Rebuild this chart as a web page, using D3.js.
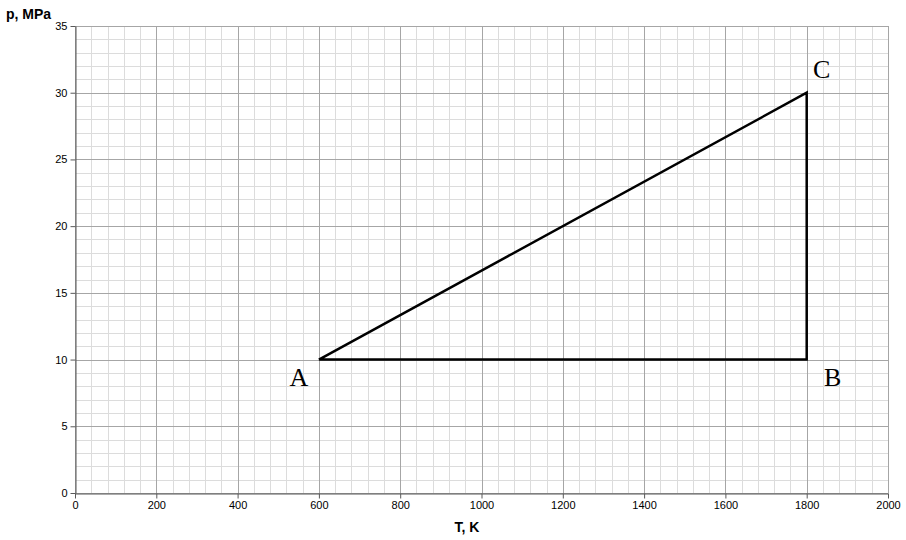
<!DOCTYPE html>
<html><head><meta charset="utf-8">
<script src="https://cdn.jsdelivr.net/npm/d3@7"></script>
<style>body{margin:0;background:#fff}svg{display:block}</style>
</head><body><svg id="c" width="906" height="540"></svg>
<script>
const pointNames = ["A", "B", "C"];
const temperatureK = [600, 1800, 1800];
const pressureMPa = [10, 10, 30];
const xTicks = [0, 200, 400, 600, 800, 1000, 1200, 1400, 1600, 1800, 2000];
const yTicks = [0, 5, 10, 15, 20, 25, 30, 35];

const svg = d3.select("#c");
const x = d3.scaleLinear().domain([0, 2000]).range([75, 888]);
const y = d3.scaleLinear().domain([0, 35]).range([493, 26]);

const g = svg.append("g");
// minor grid
g.selectAll(".vmin").data(d3.range(0, 2001, 40)).enter().append("line")
  .attr("x1", d => Math.round(x(d)) + 0.5).attr("x2", d => Math.round(x(d)) + 0.5)
  .attr("y1", y(0)).attr("y2", y(35)).attr("stroke", "#dcdcdc").attr("stroke-width", 1);
g.selectAll(".hmin").data(d3.range(0, 36, 1)).enter().append("line")
  .attr("y1", d => Math.round(y(d)) + 0.5).attr("y2", d => Math.round(y(d)) + 0.5)
  .attr("x1", x(0)).attr("x2", x(2000)).attr("stroke", "#dcdcdc").attr("stroke-width", 1);
// major grid
g.selectAll(".vmaj").data(xTicks).enter().append("line")
  .attr("x1", d => Math.round(x(d)) + 0.5).attr("x2", d => Math.round(x(d)) + 0.5)
  .attr("y1", y(0)).attr("y2", y(35)).attr("stroke", "#a6a6a6").attr("stroke-width", 1);
g.selectAll(".hmaj").data(yTicks).enter().append("line")
  .attr("y1", d => Math.round(y(d)) + 0.5).attr("y2", d => Math.round(y(d)) + 0.5)
  .attr("x1", x(0)).attr("x2", x(2000)).attr("stroke", "#a6a6a6").attr("stroke-width", 1);

// axes
const fmt = d3.format("d");
const xAxis = d3.axisBottom(x).tickValues(xTicks).tickFormat(fmt).tickSize(5).tickSizeOuter(0).tickPadding(3);
const yAxis = d3.axisLeft(y).tickValues(yTicks).tickFormat(fmt).tickSize(5).tickSizeOuter(0).tickPadding(3);
const gx = svg.append("g").attr("transform", `translate(0,${Math.round(y(0)) + 0.5})`).call(xAxis);
const gy = svg.append("g").attr("transform", `translate(${Math.round(x(0)) + 0.5},0)`).call(yAxis);
[gx, gy].forEach(a => {
  a.selectAll("path,line").attr("stroke", "#595959");
  a.selectAll("text").attr("font-family", "Liberation Sans, Arial, sans-serif").attr("font-size", 11).attr("fill", "#000");
});

// axis titles
svg.append("text").attr("x", 6).attr("y", 19).text("p, MPa")
  .attr("font-family", "Liberation Sans, Arial, sans-serif").attr("font-size", 14).attr("font-weight", "bold");
svg.append("text").attr("x", 467).attr("y", 532).attr("text-anchor", "middle").text("T, K")
  .attr("font-family", "Liberation Sans, Arial, sans-serif").attr("font-size", 14).attr("font-weight", "bold");

// cycle
const pts = pointNames.map((n, i) => ({ n, t: temperatureK[i], p: pressureMPa[i] }));
const line = d3.line().x(d => x(d.t)).y(d => y(d.p));
svg.append("path").datum(pts.concat([pts[0]])).attr("d", line)
  .attr("fill", "none").attr("stroke", "#000").attr("stroke-width", 2.5).attr("stroke-linejoin", "miter");

const offsets = { A: [-20, 26], B: [26, 26], C: [15, -15] };
svg.selectAll(".lbl").data(pts).enter().append("text")
  .attr("x", d => x(d.t) + offsets[d.n][0]).attr("y", d => y(d.p) + offsets[d.n][1])
  .attr("text-anchor", "middle").text(d => d.n)
  .attr("font-family", "Liberation Serif, Times New Roman, serif").attr("font-size", 26).attr("fill", "#000");
</script></body></html>
